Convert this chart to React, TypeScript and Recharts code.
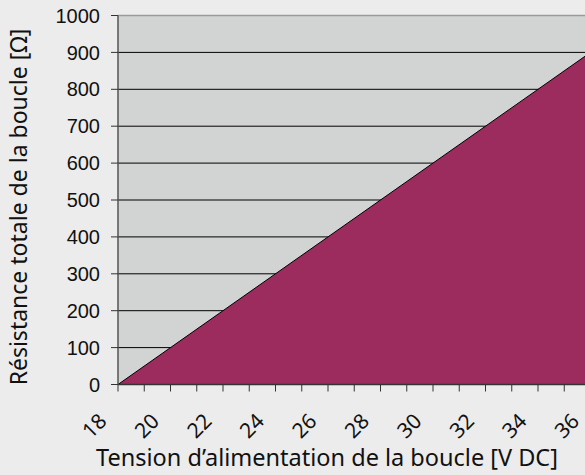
import React from "react";
import {
  AreaChart,
  Area,
  XAxis,
  YAxis,
  CartesianGrid,
  ReferenceLine,
} from "recharts";

// loop supply voltage [V DC]
const voltage = [18, 36];
// max total loop resistance [Ω]
const resistance = [0, 900];

const xTicks = [18, 19, 20, 21, 22, 23, 24, 25, 26, 27, 28, 29, 30, 31, 32, 33, 34, 35, 36];
const xLabels = [18, 20, 22, 24, 26, 28, 30, 32, 34, 36];
const yTicks = [0, 100, 200, 300, 400, 500, 600, 700, 800, 900, 1000];

const data = voltage.map((v, i) => ({ v, r: resistance[i] }));

const titleFont = "'Noto Sans', 'Open Sans', sans-serif";

const XTick = ({ x, y, payload }: any) => {
  if (!xLabels.includes(payload.value)) return null;
  const ax = x - 10;
  const ay = y + 29;
  return (
    <text
      x={ax}
      y={ay}
      transform={`rotate(-45 ${ax} ${ay})`}
      textAnchor="end"
      fontFamily={titleFont}
      fontSize={21}
      fill="#111"
    >
      {payload.value}
    </text>
  );
};

const YTitle = () => (
  <text
    x={27}
    y={207}
    transform="rotate(-90 27 207)"
    textAnchor="middle"
    fontFamily={titleFont}
    fontSize={23}
    fill="#111"
  >
    Résistance totale de la boucle [Ω]
  </text>
);

const XTitle = () => (
  <text
    x={327}
    y={466}
    textAnchor="middle"
    fontFamily={titleFont}
    fontSize={23.5}
    fill="#111"
  >
    Tension d’alimentation de la boucle [V DC]
  </text>
);

const App = () => {
  return (
    <div
      style={{
        position: "absolute",
        left: 0,
        top: 0,
        width: 585,
        height: 475,
        overflow: "hidden",
        background: "#ececec",
      }}
    >
      <AreaChart
        width={600}
        height={475}
        data={data}
        margin={{ top: 15.5, right: 9.5, bottom: 10.5, left: 0 }}
      >
        <CartesianGrid
          vertical={false}
          stroke="#000"
          strokeWidth={1}
          fill="#d2d4d3"
          fillOpacity={1}
        />
        <XAxis
          dataKey="v"
          type="number"
          domain={[18, 36]}
          ticks={xTicks}
          interval={0}
          height={80}
          tickSize={7}
          tick={<XTick />}
          axisLine={{ stroke: "#333", strokeWidth: 1.5 }}
          tickLine={{ stroke: "#333" }}
          label={<XTitle />}
        />
        <YAxis
          dataKey="r"
          type="number"
          domain={[0, 1000]}
          ticks={yTicks}
          interval={0}
          width={118}
          tickSize={7}
          tickMargin={11}
          tick={{ fontFamily: "'Liberation Sans', Arial, sans-serif", fontSize: 20, fill: "#111" }}
          axisLine={{ stroke: "#555", strokeWidth: 1.5 }}
          tickLine={{ stroke: "#333" }}
          label={<YTitle />}
        />
        <ReferenceLine y={1000} stroke="#9a9a9a" strokeWidth={1.5} />
        <Area
          type="linear"
          dataKey="r"
          stroke="#000"
          strokeWidth={1}
          fill="#9d2c5e"
          fillOpacity={1}
          isAnimationActive={false}
        />
      </AreaChart>
    </div>
  );
};

export default App;
